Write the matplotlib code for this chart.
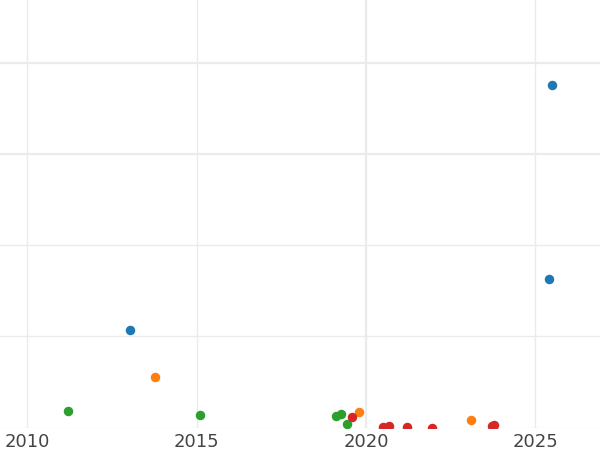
import numpy as np
import matplotlib
matplotlib.use('Agg')
import matplotlib.pyplot as plt

# points (year, value) per group
blue_x = [2025.48, 2025.39, 2013.04]
blue_y = [37.6, 16.25, 10.65]
orange_x = [2013.77, 2019.80, 2023.10]
orange_y = [5.55, 1.65, 0.78]
green_x = [2011.19, 2015.09, 2019.10, 2019.25, 2019.43]
green_y = [1.85, 1.4, 1.3, 1.5, 0.38]
red_x = [2019.60, 2020.49, 2020.69, 2021.22, 2021.94, 2023.71, 2023.78]
red_y = [1.1, 0.05, 0.2, 0.1, 0.0, 0.12, 0.25]

year_ticks = [2010, 2015, 2020, 2025]
value_ticks = [0, 10, 20, 30, 40]

fig = plt.figure(figsize=(6, 4.5), dpi=100)
ax = fig.add_axes([0, 0.05, 1, 0.95])

ax.scatter(blue_x, blue_y, s=34, color='#1f77b4', zorder=3)
ax.scatter(orange_x, orange_y, s=34, color='#ff7f0e', zorder=3)
ax.scatter(green_x, green_y, s=34, color='#2ca02c', zorder=3)
ax.scatter(red_x, red_y, s=34, color='#d62728', zorder=3)

ax.set_xlim(2009.19, 2026.91)
ax.set_ylim(0, 46.9)
ax.set_xticks(year_ticks)
ax.set_xticklabels([str(y) for y in year_ticks])
ax.set_yticks(value_ticks)
ax.set_yticklabels([])
ax.tick_params(axis='both', length=0, labelsize=13, labelcolor='#444444', pad=4)
ax.grid(True, color='#ebebeb', linewidth=1)
ax.set_axisbelow(True)
# a few grid lines are drawn heavier in the original
ax.get_xgridlines()[2].set_linewidth(1.6)
ax.get_ygridlines()[3].set_linewidth(1.6)
ax.get_ygridlines()[4].set_linewidth(1.6)
for s in ax.spines.values():
    s.set_visible(False)

fig.savefig('out.png', dpi=100)
